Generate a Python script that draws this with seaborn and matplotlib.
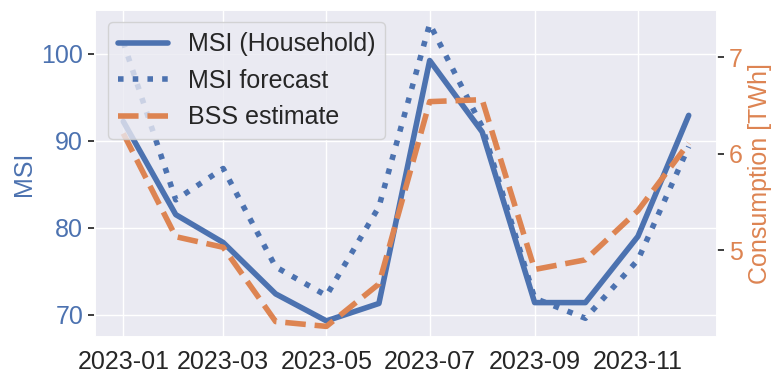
import matplotlib
matplotlib.use('Agg')
import matplotlib.pyplot as plt
import matplotlib.dates as mdates
from matplotlib.ticker import MultipleLocator
import seaborn as sns
import pandas as pd

months = pd.date_range('2023-01-01', periods=12, freq='MS')
msi_household = [92.2, 81.5, 78.3, 72.4, 69.3, 71.3, 99.2, 91.0, 71.4, 71.4, 79.0, 92.9]
msi_forecast = [101.3, 83.2, 86.8, 75.5, 72.2, 82.4, 103.4, 91.6, 71.9, 69.6, 76.3, 89.3]
bss_estimate = [6.21, 5.14, 5.03, 4.26, 4.21, 4.65, 6.54, 6.56, 4.80, 4.90, 5.41, 6.11]

df = pd.DataFrame({'month': months, 'msi': msi_household,
                   'forecast': msi_forecast, 'bss': bss_estimate})

sns.set_theme(style='darkgrid', font_scale=1.6)
plt.rcParams['font.family'] = ['Liberation Sans', 'DejaVu Sans']

blue = sns.color_palette('deep')[0]
orange = sns.color_palette('deep')[1]
fs = 18

fig, ax = plt.subplots(figsize=(7.84, 3.84), dpi=100)
fig.subplots_adjust(left=0.1212, right=0.9145, top=0.974, bottom=0.1224)

sns.lineplot(data=df, x='month', y='msi', ax=ax, color=blue, linewidth=4,
             label='MSI (Household)')
sns.lineplot(data=df, x='month', y='forecast', ax=ax, color=blue, linewidth=4,
             linestyle=':', label='MSI forecast')

ax2 = ax.twinx()
sns.lineplot(data=df, x='month', y='bss', ax=ax2, color=orange, linewidth=4,
             linestyle='--', label='BSS estimate')
ax2.grid(False)

ax.set_ylim(67.45, 105.0)
ax2.set_ylim(4.10, 7.49)
ax2.yaxis.set_major_locator(MultipleLocator(1))

ax.xaxis.set_major_locator(mdates.MonthLocator(bymonth=[1, 3, 5, 7, 9, 11]))
ax.xaxis.set_major_formatter(mdates.DateFormatter('%Y-%m'))

ax.set_xlabel('')
ax.set_ylabel('MSI', color=blue, fontsize=fs)
ax2.set_ylabel('Consumption [TWh]', color=orange, fontsize=fs)

ax.tick_params(axis='y', left=True, length=5, width=1.25, color='0.15',
               labelcolor=blue, labelsize=fs)
ax2.tick_params(axis='y', right=True, length=5, width=1.25, color='0.15',
                labelcolor=orange, labelsize=fs)
ax.tick_params(axis='x', labelsize=fs)

h1, l1 = ax.get_legend_handles_labels()
h2, l2 = ax2.get_legend_handles_labels()
ax.get_legend().remove()
ax2.get_legend().remove()
ax2.legend(h1 + h2, l1 + l2, loc='upper left', fontsize=fs)

fig.savefig('out.png', dpi=100)
